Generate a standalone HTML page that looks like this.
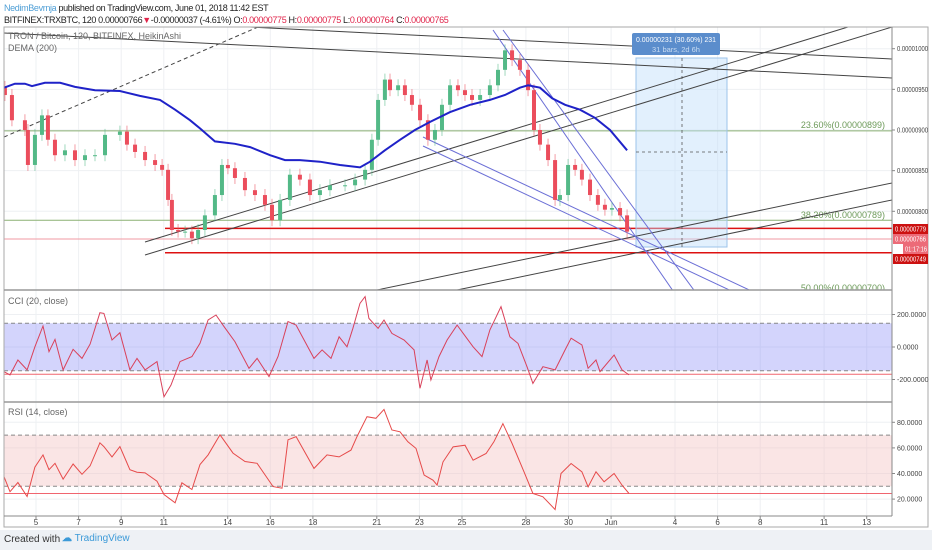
<!DOCTYPE html>
<html><head><meta charset="utf-8">
<style>
html,body{margin:0;padding:0;background:#fff;}
body{width:932px;height:550px;overflow:hidden;font-family:"Liberation Sans",sans-serif;}
#hdr{position:absolute;left:4px;top:2px;font-size:9px;letter-spacing:-0.35px;color:#222;line-height:12px;white-space:nowrap;}
#hdr .u{color:#4f9fd6;}
#hdr .r{color:#e0244a;}
#foot{position:absolute;left:0;top:530px;width:932px;height:20px;background:#eef1f5;font-family:"Liberation Sans",sans-serif;font-size:10px;color:#333;}
svg text{font-family:"Liberation Sans",sans-serif;}
</style></head><body>
<div id="hdr">
<div><span class="u">NedimBevrnja</span> published on TradingView.com, June 01, 2018 11:42 EST</div>
<div>BITFINEX:TRXBTC, 120 0.00000766<span class="r">▼</span>-0.00000037 (-4.61%) O:<span class="r">0.00000775</span> H:<span class="r">0.00000775</span> L:<span class="r">0.00000764</span> C:<span class="r">0.00000765</span></div>
</div>
<svg id="chart" width="932" height="530" style="position:absolute;left:0;top:0"></svg>
<div id="foot">
<span style="position:absolute;left:4px;top:4px">Created with</span>
<span style="position:absolute;left:62px;top:3px;color:#3c9ad8"><b style="color:#3c9ad8">☁</b> TradingView</span>
</div>
<script>
// ---- data ----
const priceDays=[3.54,3.87,4.48,4.62,4.95,5.28,5.56,5.89,6.36,6.83,7.30,7.77,8.24,8.94,9.27,9.65,10.12,10.59,10.92,11.20,11.38,11.67,12.00,12.32,12.61,12.93,13.40,13.73,14.01,14.34,14.81,15.28,15.75,16.08,16.46,16.92,17.39,17.86,18.33,18.80,19.51,19.98,20.45,20.77,21.06,21.38,21.62,22.00,22.32,22.65,23.03,23.40,23.73,24.06,24.44,24.81,25.14,25.47,25.85,26.31,26.69,27.02,27.35,27.72,28.10,28.38,28.66,29.04,29.37,29.60,29.98,30.31,30.63,31.01,31.38,31.71,32.04,32.42,32.75];
const priceClose=[943,912,900,857,894,918,888,869,875,863,869,869,894,898,882,873,863,857,851,814,777,775,775,767,777,795,820,857,853,841,826,820,808,789,814,845,839,820,826,832,832,839,851,888,937,962,949,955,943,931,912,888,900,931,955,949,943,937,943,955,974,998,986,974,949,900,882,863,814,820,857,851,839,820,808,802,804,795,775];
const demaDays=[3.50,4.01,4.48,4.81,5.42,6.13,6.83,7.77,8.94,9.88,10.82,11.53,12.23,12.70,13.40,14.34,15.05,15.99,16.69,17.39,18.33,19.27,20.21,20.68,21.38,22.09,22.79,23.50,24.44,25.38,26.31,27.02,27.72,28.10,28.66,29.23,29.84,30.54,31.24,31.95,32.75];
const demaVals=[952,957,957,954,958,958,953,949,948,942,937,925,912,902,886,883,879,869,863,863,861,857,854,861,875,888,900,910,922,931,937,943,952,955,952,939,931,925,915,900,875];
const cciDays=[3.50,3.78,4.15,4.58,4.95,5.33,5.61,5.89,6.27,6.74,7.16,7.54,8.00,8.19,8.57,8.94,9.41,9.74,10.12,10.68,11.01,11.34,11.76,12.32,12.70,13.08,13.45,13.83,14.34,15.00,15.38,15.94,16.36,16.83,17.21,18.05,18.43,18.85,19.23,19.60,19.88,20.21,20.45,20.63,21.06,21.34,21.71,22.28,22.75,23.03,23.36,23.54,23.92,24.30,24.77,25.52,25.94,26.31,26.83,27.25,27.63,28.05,28.33,28.80,29.37,29.84,30.12,30.63,30.92,31.29,31.48,32.14,32.51,32.84];
const cciVals=[-152,-172,-80,-141,1,129,-29,47,-141,-14,-70,18,211,207,43,88,-141,-70,-141,-90,-306,-234,-90,-59,23,166,197,125,33,-131,-70,-182,-59,156,135,-70,-18,-70,63,1,115,269,310,176,115,166,84,43,-18,-254,-80,-203,-59,43,135,1,-59,105,248,63,22,-121,-224,-121,-141,-18,54,13,-131,-80,-152,-49,-141,-172];
const rsiDays=[3.50,3.78,4.15,4.58,4.95,5.33,5.61,5.89,6.27,6.74,7.16,7.54,8.00,8.19,8.57,8.94,9.41,9.74,10.12,10.68,11.01,11.53,11.85,12.32,12.70,13.08,13.64,14.25,14.81,15.38,16.13,16.55,16.83,17.21,18.05,18.66,19.23,19.79,20.07,20.54,20.96,21.34,21.71,22.09,22.46,22.84,23.22,23.64,23.83,24.11,24.58,25.14,25.52,26.13,26.50,26.92,27.35,27.91,28.33,28.80,29.37,29.65,30.12,30.63,30.92,31.29,31.67,32.14,32.51,32.84];
const rsiVals=[37.5,25.8,33,22,45,54.5,43,48,35.6,47.4,39.4,45.9,64,61,53,61,43,41,40.5,34,23.6,17.1,32.7,27.5,47,54.5,70.2,55.9,49.4,48,29.8,28.5,66.3,68.8,44,54.5,53,58.3,68.8,84.4,83.1,90.1,74,72.6,64.8,59.6,38.8,34.8,30.9,49.1,60.8,62.1,50.4,55.6,64.8,79,63.4,41.3,24.4,21.8,11.9,40,47.8,41.3,29.6,41.3,33.5,40,30.9,24.4];
const priceTicks=[1000,950,900,850,800];
const priceTickLabels=["0.00001000","0.00000950","0.00000900","0.00000850","0.00000800"];
const cciTicks=[200,0,-200];
const cciTickLabels=["200.0000","0.0000","-200.0000"];
const rsiTicks=[80,60,40,20];
const rsiTickLabels=["80.0000","60.0000","40.0000","20.0000"];
const dateTicks=[5,7,9,11,14,16,18,21,23,25,28,30,32,35,37,39,42,44];
const dateLabels=["5","7","9","11","14","16","18","21","23","25","28","30","Jun","4","6","8","11","13"];

// ---- scales ----
const xOf=d=>36+(d-5)*21.3;
const yP=v=>130+(900-v)*0.813;
const yC=v=>347-v*0.1625;
const yR=v=>422.3-(v-80)*1.28;
const svg=document.getElementById('chart');
const NS='http://www.w3.org/2000/svg';
function mk(tag,attrs,parent){const e=document.createElementNS(NS,tag);for(const k in attrs)e.setAttribute(k,attrs[k]);(parent||svg).appendChild(e);return e;}
function txt(x,y,s,attrs,parent){const t=mk('text',Object.assign({x:x,y:y},attrs),parent);t.textContent=s;return t;}

const PL=4,PR=892,AR=928;
const grid=mk('g',{});


dateTicks.forEach(d=>mk('line',{x1:xOf(d),x2:xOf(d),y1:27,y2:516,stroke:'#eef0f3','stroke-width':1},grid));
priceTicks.forEach(v=>mk('line',{x1:PL,x2:PR,y1:yP(v),y2:yP(v),stroke:'#eef0f3'},grid));
cciTicks.forEach(v=>mk('line',{x1:PL,x2:PR,y1:yC(v),y2:yC(v),stroke:'#eef0f3'},grid));
rsiTicks.forEach(v=>mk('line',{x1:PL,x2:PR,y1:yR(v),y2:yR(v),stroke:'#eef0f3'},grid));

const defs=mk('defs',{});
const cp=mk('clipPath',{id:'mainclip'},defs);mk('rect',{x:PL,y:27,width:PR-PL,height:263},cp);
const cp2=mk('clipPath',{id:'subclip'},defs);mk('rect',{x:PL,y:290,width:PR-PL,height:226},cp2);

const main=mk('g',{'clip-path':'url(#mainclip)'});



mk('line',{x1:PL,x2:PR,y1:yP(899),y2:yP(899),stroke:'#8bb174','stroke-width':1},main);
mk('line',{x1:PL,x2:PR,y1:yP(789),y2:yP(789),stroke:'#8bb174','stroke-width':1},main);
const f1=txt(885,128,'23.60%(0.00000899)',{'font-size':9,fill:'#6d9a5a','text-anchor':'end'},main);


const f2=txt(885,218,'38.20%(0.00000789)',{'font-size':9,fill:'#6d9a5a','text-anchor':'end'},main);


const f3=txt(885,291,'50.00%(0.00000700)',{'font-size':9,fill:'#6d9a5a','text-anchor':'end'},main);


mk('line',{x1:PL,x2:PR,y1:yP(766),y2:yP(766),stroke:'#f19aa3','stroke-width':1},main);
const r1=mk('line',{x1:165,x2:PR,y1:yP(779),y2:yP(779),stroke:'#d11',"stroke-width":1.5},main);


const r2=mk('line',{x1:165,x2:PR,y1:yP(749),y2:yP(749),stroke:'#d11',"stroke-width":1.5},main);



const box=mk('rect',{x:636,y:58,width:91,height:189,fill:'rgba(190,222,250,0.45)',stroke:'#9cc3ea','stroke-width':1},main);


mk('line',{x1:682,x2:682,y1:58,y2:247,stroke:'#555','stroke-dasharray':'3,3','stroke-width':0.8},main);
mk('line',{x1:636,x2:727,y1:152,y2:152,stroke:'#555','stroke-dasharray':'3,3','stroke-width':0.8},main);

const draw=[
 [4,137,258,27,'#444','4,3'],[250,27,892,59,'#444',''],[4,33,892,78,'#444',''],
 [145,242,848,27,'#444',''],[145,255,892,27,'#444',''],
 [377,290,892,183,'#444',''],[457,290,892,200,'#444',''],
 [423,137,760,295,'#6b6fd6',''],[423,146,740,295,'#6b6fd6',''],
 [493,30,680,301,'#6b6fd6',''],[503,30,710,312,'#6b6fd6','']
];
draw.forEach((l,i)=>{const e=mk('line',{x1:l[0],y1:l[1],x2:l[2],y2:l[3],stroke:l[4],'stroke-width':1,'stroke-dasharray':l[5]},main);

});

const cg=mk('g',{},main);


priceClose.forEach((c,i)=>{
  const o=i>0?priceClose[i-1]:c+10;
  const x=xOf(priceDays[i]);
  const up=c>=o;const col=up?'#53b987':'#eb4d5c';
  const top=yP(Math.max(o,c)),bot=yP(Math.min(o,c));
  const w=mk('line',{x1:x,x2:x,y1:top-6,y2:bot+6,stroke:col,'stroke-width':1,opacity:0.55},cg);
  
  
  const b=mk('rect',{x:x-2,y:top,width:4,height:Math.max(1,bot-top),fill:col},cg);
  
  
});
const dema=mk('path',{d:demaDays.map((d,i)=>(i?'L':'M')+xOf(d).toFixed(1)+','+yP(demaVals[i]).toFixed(1)).join(''),fill:'none',stroke:'#1f22c8','stroke-width':2},main);



const bl=mk('g',{});


mk('rect',{x:632,y:33,width:88,height:22,rx:2,fill:'#5b8dcc'},bl);
txt(676,42,'0.00000231 (30.60%) 231',{'font-size':7.5,fill:'#fff','text-anchor':'middle',textLength:80,lengthAdjust:'spacingAndGlyphs'},bl);
txt(676,52,'31 bars, 2d 6h',{'font-size':7.5,fill:'#c9dcf2','text-anchor':'middle'},bl);

const l1=txt(8,39,'TRON / Bitcoin, 120, BITFINEX, HeikinAshi',{'font-size':9,fill:'#666','font-family':'Liberation Mono, monospace'});


const l2=txt(8,51,'DEMA (200)',{'font-size':9,fill:'#666','font-family':'Liberation Mono, monospace'});



const sub=mk('g',{'clip-path':'url(#subclip)'});


mk('rect',{x:PL,y:yC(146),width:PR-PL,height:yC(-146)-yC(146),fill:'rgba(120,123,245,0.33)'},sub);
mk('line',{x1:PL,x2:PR,y1:yC(146),y2:yC(146),stroke:'#888','stroke-dasharray':'4,3'},sub);
mk('line',{x1:PL,x2:PR,y1:yC(-146),y2:yC(-146),stroke:'#888','stroke-dasharray':'4,3'},sub);
mk('line',{x1:PL,x2:PR,y1:yC(-168),y2:yC(-168),stroke:'#f0656f'},sub);
const cci=mk('path',{d:cciDays.map((d,i)=>(i?'L':'M')+xOf(d).toFixed(1)+','+yC(cciVals[i]).toFixed(1)).join(''),fill:'none',stroke:'#d9415a','stroke-width':1},sub);


mk('rect',{x:PL,y:yR(70),width:PR-PL,height:yR(30)-yR(70),fill:'rgba(242,190,190,0.4)'},sub);
mk('line',{x1:PL,x2:PR,y1:yR(70),y2:yR(70),stroke:'#888','stroke-dasharray':'4,3'},sub);
mk('line',{x1:PL,x2:PR,y1:yR(30),y2:yR(30),stroke:'#888','stroke-dasharray':'4,3'},sub);
mk('line',{x1:PL,x2:PR,y1:yR(24.4),y2:yR(24.4),stroke:'#f0656f'},sub);
const rsi=mk('path',{d:rsiDays.map((d,i)=>(i?'L':'M')+xOf(d).toFixed(1)+','+yR(rsiVals[i]).toFixed(1)).join(''),fill:'none',stroke:'#e64a4a','stroke-width':1},sub);


const l3=txt(8,304,'CCI (20, close)',{'font-size':9,fill:'#666','font-family':'Liberation Mono, monospace'});


const l4=txt(8,415,'RSI (14, close)',{'font-size':9,fill:'#666','font-family':'Liberation Mono, monospace'});



mk('rect',{x:PL,y:27,width:AR-PL,height:500,fill:'none',stroke:'#aaa','stroke-width':1});
mk('line',{x1:PR,x2:PR,y1:27,y2:516,stroke:'#888'});
mk('line',{x1:PL,x2:PR,y1:290,y2:290,stroke:'#999','stroke-width':1.5});
mk('line',{x1:PL,x2:PR,y1:402,y2:402,stroke:'#999','stroke-width':1.5});
mk('line',{x1:PL,x2:PR,y1:516,y2:516,stroke:'#888'});

const ax=mk('g',{'font-size':7,fill:'#444'});


priceTicks.forEach((v,i)=>{mk('line',{x1:PR,x2:PR+3,y1:yP(v),y2:yP(v),stroke:'#888'},ax);txt(PR+5,yP(v)+2.5,priceTickLabels[i],{textLength:31,lengthAdjust:'spacingAndGlyphs'},ax);});
cciTicks.forEach((v,i)=>{mk('line',{x1:PR,x2:PR+3,y1:yC(v),y2:yC(v),stroke:'#888'},ax);txt(PR+5,yC(v)+2.5,cciTickLabels[i],{},ax);});
rsiTicks.forEach((v,i)=>{mk('line',{x1:PR,x2:PR+3,y1:yR(v),y2:yR(v),stroke:'#888'},ax);txt(PR+5,yR(v)+2.5,rsiTickLabels[i],{},ax);});
const tags=[[229,'0.00000779','#cc1111',0],[239,'0.00000766','#ec6b78',0],[249,'01:17:16','#ec6b78',10],[259,'0.00000749','#cc1111',0]];
tags.forEach(t=>{const y=t[0];const g=mk('g',{},ax);


mk('rect',{x:PR+1+t[3],y:y-5,width:AR-PR-1-t[3],height:10,fill:t[2]},g);txt(PR+3+t[3],y+2.5,t[1],{fill:'#fff',textLength:t[3]?22:31,lengthAdjust:'spacingAndGlyphs'},g);});
const xa=mk('g',{'font-size':8,fill:'#444','text-anchor':'middle'});


dateTicks.forEach((d,i)=>{mk('line',{x1:xOf(d),x2:xOf(d),y1:516,y2:519,stroke:'#888'},xa);txt(xOf(d),525,dateLabels[i],{},xa);});
</script>
</body></html>
